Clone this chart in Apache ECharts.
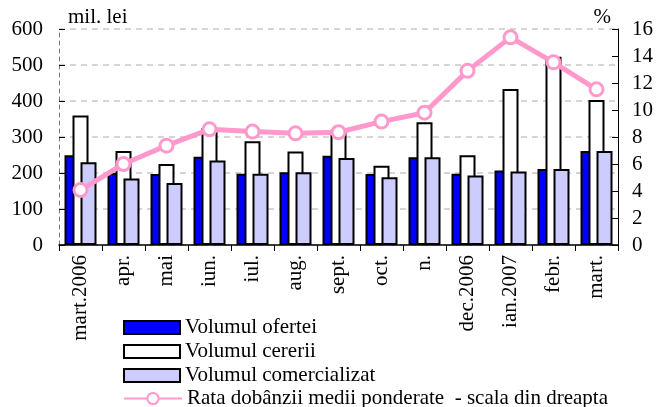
<!DOCTYPE html>
<html>
<head>
<meta charset="utf-8">
<script src="https://cdn.jsdelivr.net/npm/echarts@6/dist/echarts.min.js"></script>
<style>
  html, body { margin: 0; padding: 0; background: #fff; }
  #chart { width: 656px; height: 407px; }
</style>
</head>
<body>
<div id="chart"></div>
<script>
// luni
const categories = ["mart.2006", "apr.", "mai", "iun.", "iul.", "aug.", "sept.", "oct.", "n.", "dec.2006", "ian.2007", "febr.", "mart."];
// mil. lei
const oferta = [249, 200, 197, 245, 198, 202, 248, 197, 244, 198, 207, 211, 261];
const cerere = [360, 261, 225, 325, 288, 260, 320, 220, 341, 249, 433, 523, 403];
const comercializat = [230, 185, 172, 235, 198, 202, 242, 188, 244, 193, 204, 211, 261];
// %
const rata = [4.07, 6.0, 7.36, 8.57, 8.4, 8.27, 8.35, 9.14, 9.8, 12.9, 15.38, 13.53, 11.53];

const FONT = "Liberation Serif";
const LINE_NAME = "Rata dobânzii medii ponderate  - scala din dreapta";
const chart = echarts.init(document.getElementById("chart"));

const barStyle = (color) => ({ color: color, borderColor: "#000", borderWidth: 2 });
const legendText = { fontFamily: FONT, fontSize: 21, color: "#000", lineHeight: 21 };

chart.setOption({
  animation: false,
  textStyle: { fontFamily: FONT, color: "#000" },
  grid: { left: 59, right: 37, top: 29, bottom: 162 },
  legend: [
    {
      orient: "vertical",
      left: 118,
      top: 312,
      itemWidth: 56,
      itemHeight: 13,
      itemGap: 3,
      textStyle: legendText,
      data: [
        { name: "Volumul ofertei", icon: "rect" },
        { name: "Volumul cererii", icon: "rect" },
        { name: "Volumul comercializat", icon: "rect" },
      ],
    },
    {
      orient: "vertical",
      left: 118,
      top: 383,
      itemWidth: 58,
      itemHeight: 14,
      textStyle: legendText,
      data: [{ name: LINE_NAME }],
    },
  ],
  xAxis: {
    type: "category",
    data: categories,
    axisLine: { lineStyle: { color: "#000", width: 1.5 } },
    axisTick: { show: true, length: 6, lineStyle: { color: "#000" } },
    axisLabel: { rotate: 90, fontFamily: FONT, fontSize: 21, color: "#000", margin: 10, interval: 0 },
  },
  yAxis: [
    {
      type: "value",
      min: 0,
      max: 600,
      interval: 100,
      name: "mil. lei",
      nameLocation: "end",
      nameGap: 1,
      nameTextStyle: { fontFamily: FONT, fontSize: 21, color: "#000", align: "left", padding: [0, 0, 0, 9] },
      axisLine: { show: true, lineStyle: { color: "#777", type: [4, 4] } },
      axisTick: { show: true, inside: true, length: 6, lineStyle: { color: "#000" } },
      axisLabel: { fontFamily: FONT, fontSize: 21, color: "#000", margin: 16 },
      splitLine: { show: true, lineStyle: { color: "#c8c8c8", type: [6, 5], width: 1.5 } },
    },
    {
      type: "value",
      min: 0,
      max: 16,
      interval: 2,
      name: "%",
      nameLocation: "end",
      nameGap: 1,
      nameTextStyle: { fontFamily: FONT, fontSize: 21, color: "#000", align: "right", padding: [0, 7, 0, 0] },
      axisLine: { show: true, lineStyle: { color: "#000" } },
      axisTick: { show: true, inside: true, length: 6, lineStyle: { color: "#000" } },
      axisLabel: { fontFamily: FONT, fontSize: 21, color: "#000", margin: 14 },
      splitLine: { show: false },
    },
  ],
  series: [
    {
      name: "Volumul ofertei",
      type: "bar",
      data: oferta,
      barWidth: 16,
      barGap: "-50%",
      itemStyle: barStyle("#0000ff"),
    },
    {
      name: "Volumul cererii",
      type: "bar",
      data: cerere,
      barWidth: 16,
      barGap: "-50%",
      itemStyle: barStyle("#ffffff"),
    },
    {
      name: "Volumul comercializat",
      type: "bar",
      data: comercializat,
      barWidth: 16,
      barGap: "-50%",
      itemStyle: barStyle("#ccccff"),
    },
    {
      name: LINE_NAME,
      type: "line",
      yAxisIndex: 1,
      data: rata,
      symbol: "circle",
      symbolSize: 13,
      lineStyle: { color: "#ff99cc", width: 5 },
      itemStyle: { color: "#fff", borderColor: "#ff99cc", borderWidth: 3 },
      z: 5,
    },
  ],
});
</script>
</body>
</html>
